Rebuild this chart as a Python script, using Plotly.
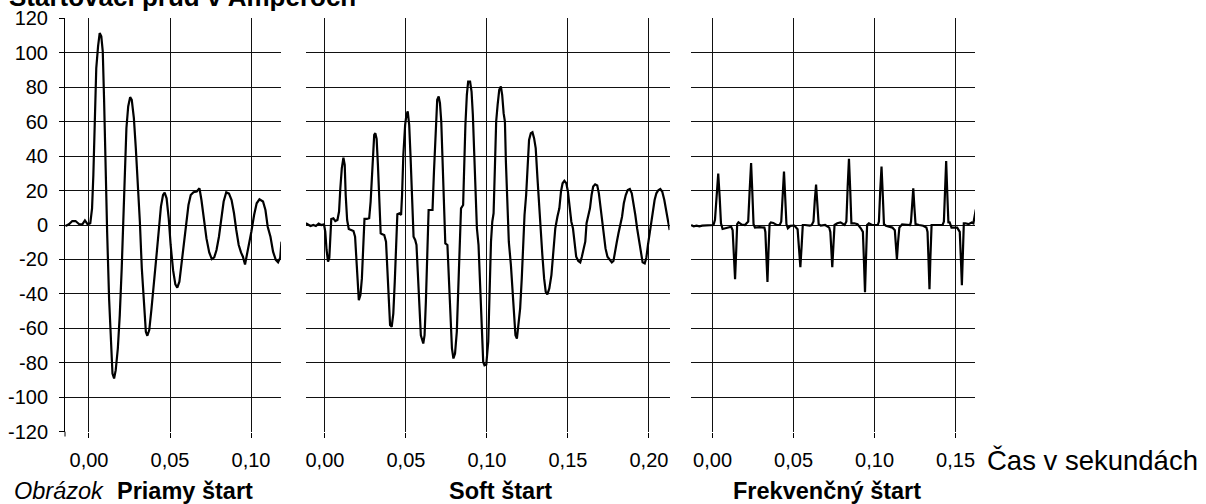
import plotly.graph_objects as go

# ---------------- data (time in s, current in A) ----------------
priamy_t = [
    -0.0145, -0.0124, -0.0103, -0.0083, -0.0062, -0.0041, -0.0025, -0.0008, 0.0008, 0.0019,
    0.0027, 0.0035, 0.0045, 0.0056, 0.0066, 0.0076, 0.0085, 0.0093, 0.0101, 0.0112,
    0.0124, 0.0134, 0.0145, 0.0155, 0.0165, 0.0178, 0.0190, 0.0202, 0.0213, 0.0223,
    0.0231, 0.0242, 0.0254, 0.0264, 0.0277, 0.0289, 0.0302, 0.0314, 0.0326, 0.0339,
    0.0351, 0.0360, 0.0372, 0.0386, 0.0403, 0.0417, 0.0432, 0.0444, 0.0457, 0.0467,
    0.0479, 0.0492, 0.0504, 0.0519, 0.0533, 0.0545, 0.0558, 0.0572, 0.0587, 0.0601,
    0.0614, 0.0628, 0.0645, 0.0665, 0.0682, 0.0694, 0.0709, 0.0725, 0.0742, 0.0758,
    0.0773, 0.0787, 0.0802, 0.0816, 0.0831, 0.0847, 0.0864, 0.0880, 0.0895, 0.0909,
    0.0924, 0.0938, 0.0950, 0.0963, 0.0973, 0.0986, 0.1002, 0.1019, 0.1035, 0.1052,
    0.1074, 0.1089, 0.1103, 0.1120, 0.1136, 0.1153, 0.1167, 0.1180, 0.1188,
]
priamy_i = [
    -0.6, 0.4, 2.3, 2.3, 0.6, 0.4, 2.7, 0.4, 1.0, 9.7,
    29.1, 60.1, 91.1, 103.7, 111.4, 109.5, 100.8, 73.6, 32.9, -3.9,
    -42.6, -67.8, -86.2, -89.1, -84.3, -71.7, -52.3, -25.2, 1.9, 36.8,
    56.2, 68.8, 74.2, 72.7, 62.0, 44.6, 25.2, 1.9, -25.2, -48.4,
    -62.0, -64.3, -61.0, -48.4, -32.9, -17.4, -1.9, 10.7, 17.4, 18.8,
    15.5, 3.9, -11.6, -26.2, -34.5, -36.4, -32.9, -22.3, -7.8, 2.9,
    11.6, 17.4, 19.0, 19.4, 21.3, 14.5, 2.9, -7.8, -15.9, -19.8,
    -18.8, -14.5, -6.8, 3.9, 13.6, 19.0, 18.2, 14.5, 6.8, -2.9,
    -11.6, -15.9, -18.4, -22.9, -18.4, -11.6, -3.9, 5.8, 12.6, 14.9,
    13.6, 8.7, -1.0, -6.8, -15.5, -20.3, -21.7, -19.0, -9.7,
]

soft_t = [
    -0.0118, -0.0104, -0.0089, -0.0072, -0.0056, -0.0039, -0.0023, -0.0006, 0.0002, 0.0010,
    0.0019, 0.0027, 0.0033, 0.0039, 0.0052, 0.0064, 0.0077, 0.0087, 0.0095, 0.0104,
    0.0114, 0.0122, 0.0128, 0.0137, 0.0147, 0.0159, 0.0176, 0.0186, 0.0193, 0.0201,
    0.0209, 0.0219, 0.0228, 0.0236, 0.0244, 0.0259, 0.0273, 0.0282, 0.0290, 0.0298,
    0.0304, 0.0311, 0.0319, 0.0327, 0.0335, 0.0344, 0.0354, 0.0366, 0.0377, 0.0385,
    0.0393, 0.0402, 0.0412, 0.0422, 0.0431, 0.0439, 0.0447, 0.0460, 0.0470, 0.0476,
    0.0484, 0.0495, 0.0503, 0.0511, 0.0520, 0.0528, 0.0538, 0.0547, 0.0557, 0.0565,
    0.0573, 0.0582, 0.0592, 0.0607, 0.0615, 0.0623, 0.0631, 0.0640, 0.0652, 0.0664,
    0.0673, 0.0683, 0.0693, 0.0702, 0.0710, 0.0718, 0.0726, 0.0735, 0.0743, 0.0756,
    0.0764, 0.0774, 0.0784, 0.0793, 0.0803, 0.0814, 0.0822, 0.0832, 0.0840, 0.0853,
    0.0859, 0.0867, 0.0876, 0.0884, 0.0896, 0.0905, 0.0913, 0.0921, 0.0929, 0.0938,
    0.0948, 0.0958, 0.0969, 0.0977, 0.0985, 0.0996, 0.1008, 0.1016, 0.1025, 0.1033,
    0.1041, 0.1049, 0.1057, 0.1066, 0.1076, 0.1086, 0.1094, 0.1103, 0.1111, 0.1117,
    0.1125, 0.1135, 0.1148, 0.1158, 0.1168, 0.1176, 0.1185, 0.1195, 0.1205, 0.1215,
    0.1223, 0.1232, 0.1242, 0.1252, 0.1260, 0.1271, 0.1281, 0.1291, 0.1301, 0.1312,
    0.1322, 0.1332, 0.1342, 0.1353, 0.1363, 0.1373, 0.1385, 0.1398, 0.1410, 0.1422,
    0.1435, 0.1447, 0.1457, 0.1467, 0.1478, 0.1490, 0.1500, 0.1510, 0.1521, 0.1531,
    0.1541, 0.1551, 0.1564, 0.1576, 0.1586, 0.1597, 0.1607, 0.1615, 0.1625, 0.1636,
    0.1646, 0.1656, 0.1668, 0.1681, 0.1691, 0.1701, 0.1711, 0.1722, 0.1732, 0.1744,
    0.1759, 0.1771, 0.1781, 0.1791, 0.1802, 0.1812, 0.1822, 0.1834, 0.1845, 0.1857,
    0.1869, 0.1882, 0.1894, 0.1906, 0.1916, 0.1927, 0.1939, 0.1951, 0.1961, 0.1974,
    0.1984, 0.1994, 0.2005, 0.2015, 0.2025, 0.2035, 0.2046, 0.2058, 0.2070, 0.2082,
    0.2095, 0.2107, 0.2117, 0.2128,
]
soft_i = [
    1.0, 0.0, -0.6, 0.0, -0.6, 0.8, 0.0, 0.4, -3.9, -14.5,
    -21.3, -19.0, -3.9, 3.5, 3.9, 2.3, 2.9, 7.8, 21.3, 32.9,
    39.1, 34.9, 17.4, 2.9, -2.3, -2.9, -3.5, -6.8, -19.4, -34.9,
    -43.6, -40.7, -31.0, -13.6, 3.5, 3.5, 3.9, 13.6, 27.1, 40.7,
    52.3, 53.3, 50.0, 34.9, 13.6, -4.8, -5.4, -5.8, -9.7, -25.2,
    -48.4, -58.1, -59.1, -51.4, -32.9, -11.6, 6.2, 6.8, 5.8, 17.4,
    40.7, 58.1, 64.0, 65.9, 58.1, 40.7, 19.4, -6.8, -8.7, -11.6,
    -27.1, -48.4, -64.0, -68.8, -64.0, -44.6, -13.6, 8.7, 8.7, 8.7,
    31.0, 58.1, 72.7, 74.6, 70.7, 60.1, 36.8, 9.7, -10.7, -11.6,
    -31.0, -54.3, -71.7, -77.5, -74.6, -62.0, -40.7, -13.6, 9.7, 11.6,
    32.9, 58.1, 75.6, 83.3, 83.3, 77.5, 64.0, 40.7, 13.6, -1.9,
    -11.6, -36.8, -62.0, -79.5, -81.4, -81.0, -67.8, -36.8, -9.7, 1.9,
    6.8, 32.9, 60.1, 69.8, 78.5, 80.4, 75.6, 64.9, 60.1, 36.8,
    13.6, -9.7, -23.3, -38.8, -56.2, -64.0, -65.9, -58.1, -48.4, -31.0,
    -9.7, 5.8, 17.4, 38.8, 49.4, 53.3, 53.9, 50.4, 44.6, 27.1,
    9.7, -7.8, -17.4, -31.0, -38.8, -40.3, -36.8, -29.1, -13.6, -1.9,
    4.8, 9.7, 19.4, 24.2, 25.6, 24.2, 19.4, 9.7, 1.9, -1.9,
    -11.6, -18.4, -20.9, -21.7, -18.4, -13.6, -9.7, 1.0, 5.8, 9.7,
    17.4, 22.3, 23.6, 22.9, 18.4, 10.7, 1.9, -5.8, -13.6, -18.4,
    -20.3, -21.7, -20.9, -16.5, -9.7, -4.8, -1.0, 4.8, 12.6, 17.4,
    20.3, 20.9, 18.4, 12.6, 5.8, -1.9, -9.7, -17.4, -21.7, -22.3,
    -19.0, -11.6, -4.8, 2.9, 7.8, 14.5, 18.4, 20.2, 20.9, 19.4,
    14.5, 8.7, 2.9, -2.9,
]

frekv_t = [
    -0.0132, -0.0116, -0.0099, -0.0081, -0.0064, -0.0043, -0.0019, 0.0006, 0.0015, 0.0025,
    0.0035, 0.0044, 0.0052, 0.0062, 0.0085, 0.0115, 0.0124, 0.0132, 0.0139, 0.0146,
    0.0152, 0.0160, 0.0180, 0.0200, 0.0220, 0.0229, 0.0238, 0.0246, 0.0253, 0.0262,
    0.0290, 0.0320, 0.0326, 0.0333, 0.0339, 0.0345, 0.0352, 0.0360, 0.0375, 0.0395,
    0.0415, 0.0424, 0.0433, 0.0441, 0.0449, 0.0456, 0.0465, 0.0480, 0.0505, 0.0525,
    0.0534, 0.0542, 0.0550, 0.0557, 0.0570, 0.0600, 0.0612, 0.0623, 0.0631,
    0.0639, 0.0647, 0.0655, 0.0668, 0.0695, 0.0720, 0.0727, 0.0733, 0.0739, 0.0746,
    0.0753, 0.0770, 0.0790, 0.0815, 0.0826, 0.0834, 0.0842, 0.0850, 0.0857, 0.0875,
    0.0895, 0.0915, 0.0928, 0.0935, 0.0941, 0.0947, 0.0954, 0.0965, 0.0985, 0.1020,
    0.1027, 0.1035, 0.1043, 0.1051, 0.1058, 0.1070, 0.1090, 0.1110, 0.1125, 0.1132,
    0.1138, 0.1145, 0.1153, 0.1170, 0.1195, 0.1220, 0.1225, 0.1232, 0.1239, 0.1246,
    0.1253, 0.1275, 0.1300, 0.1320, 0.1327, 0.1333, 0.1339, 0.1345, 0.1352, 0.1365,
    0.1390, 0.1420, 0.1428, 0.1435, 0.1442, 0.1449, 0.1456, 0.1462, 0.1475, 0.1510,
    0.1526, 0.1533, 0.1539, 0.1545, 0.1551, 0.1560, 0.1580, 0.1600, 0.1610, 0.1625,
]
frekv_i = [
    0.0, -0.8, -0.4, -0.8, -0.4, -0.4, 0.0, 0.0, 3.0, 18.0,
    29.8, 16.0, 1.0, -2.3, -1.9, -1.0, -3.0, -18.0, -31.5, -15.0,
    0.5, 1.6, 0.2, 0.0, 2.0, 20.0, 36.0, 18.0, 0.5, -1.5,
    -1.2, -1.5, -4.0, -20.0, -33.0, -16.0, 0.5, 1.5, 1.2, 0.0,
    0.0, 2.0, 18.0, 31.0, 15.0, 0.5, -1.9, -0.5, -0.3, -2.5,
    -14.0, -24.5, -12.0, 0.0, 0.0, -0.4, 0.0, 2.0, 14.0,
    23.5, 12.0, 0.5, -0.4, 0.0, -1.5, -4.0, -14.0, -24.5, -12.0,
    0.0, 1.0, 1.5, 0.0, 2.0, 22.0, 38.4, 20.0, 1.0, 1.0,
    0.5, -1.9, -4.0, -22.0, -39.0, -20.0, 0.0, 1.0, 0.0, 0.0,
    2.0, 20.0, 33.9, 17.0, 0.5, -0.4, -1.0, -1.5, -3.0, -12.0,
    -19.8, -10.0, -1.5, 0.4, 0.0, 0.0, 2.0, 12.0, 21.3, 10.0,
    0.5, 0.0, -0.4, -1.5, -4.0, -20.0, -37.3, -18.0, 0.0, 0.0,
    0.0, 0.0, 2.0, 20.0, 37.2, 18.0, 1.0, 2.0, -1.5, -1.5,
    -4.0, -20.0, -35.0, -17.0, 1.0, 1.0, 0.5, 1.5, 1.0, 9.0,
]

y_tick_vals = [-120, -100, -80, -60, -40, -20, 0, 20, 40, 60, 80, 100, 120]
y_tick_text = ["-120", "-100", "-80", "-60", "-40", "-20", "0", "20", "40", "60", "80", "100", "120"]
x1_tick_vals = [0.0, 0.05, 0.10]
x1_tick_text = ["0,00", "0,05", "0,10"]
x2_tick_vals = [0.0, 0.05, 0.10, 0.15, 0.20]
x2_tick_text = ["0,00", "0,05", "0,10", "0,15", "0,20"]
x3_tick_vals = [0.0, 0.05, 0.10, 0.15]
x3_tick_text = ["0,00", "0,05", "0,10", "0,15"]

title_text = "Startovací prúd v Ampéroch"
panel_names = ["Priamy štart", "Soft štart", "Frekvenčný štart"]
fig_label = "Obrázok"
x_axis_label = "Čas v sekundách"

# ---------------- layout helpers ----------------
W, H = 1206, 504
FONT = "Liberation Sans, Arial, sans-serif"


def px(x):
    return x / W


def py(y):
    return 1 - y / H


line_style = dict(color="black", width=2.2)
fig = go.Figure()
fig.add_trace(go.Scatter(x=priamy_t, y=priamy_i, xaxis="x", yaxis="y", mode="lines",
                         line=line_style, hoverinfo="skip", showlegend=False))
fig.add_trace(go.Scatter(x=soft_t, y=soft_i, xaxis="x2", yaxis="y2", mode="lines",
                         line=line_style, hoverinfo="skip", showlegend=False))
fig.add_trace(go.Scatter(x=frekv_t, y=frekv_i, xaxis="x3", yaxis="y3", mode="lines",
                         line=line_style, hoverinfo="skip", showlegend=False))

ydom = [py(431.7), py(18.3)]
tickfont = dict(family=FONT, size=20, color="black")
grid = dict(showgrid=True, gridcolor="#111111", gridwidth=1, zeroline=False, automargin=False)


def xax(dom, rng, vals, text, anchor):
    return dict(domain=dom, range=rng, tickvals=vals, ticktext=text, ticks="outside",
                ticklen=5, tickcolor="black", tickwidth=1, tickfont=tickfont,
                showline=False, anchor=anchor, ticklabelstandoff=5, **grid)


def yax(anchor, labels):
    d = dict(domain=ydom, range=[-120, 120], tickvals=y_tick_vals, anchor=anchor, **grid)
    if labels:
        d.update(ticktext=y_tick_text, ticks="outside", ticklen=5, tickcolor="black",
                 tickfont=tickfont, showline=True, linecolor="black", linewidth=1,
                 ticklabelstandoff=7)
    else:
        d.update(showticklabels=False, ticks="", showline=False)
    return d


fig.update_layout(
    template="none",
    width=W, height=H, autosize=False,
    margin=dict(l=0, r=0, t=0, b=0, pad=0, autoexpand=False),
    paper_bgcolor="white", plot_bgcolor="white",
    font=dict(family=FONT, color="black"),
    xaxis=xax([px(65), px(281)], [-0.0148, 0.1185], x1_tick_vals, x1_tick_text, "y"),
    xaxis2=xax([px(306), px(669.5)], [-0.0117, 0.2127], x2_tick_vals, x2_tick_text, "y2"),
    xaxis3=xax([px(691), px(975)], [-0.0133, 0.1620], x3_tick_vals, x3_tick_text, "y3"),
    yaxis=yax("x", True),
    yaxis2=yax("x2", False),
    yaxis3=yax("x3", False),
    shapes=[dict(type="line", xref="paper", yref="paper", x0=px(65), x1=px(65),
                 y0=py(431.7), y1=py(436.5), line=dict(color="black", width=1))],
)

ann = [
    dict(text="<b>" + title_text + "</b>", x=px(7), y=py(-3.5), xanchor="left", yanchor="middle",
         font=dict(size=26)),
    dict(text="<i>" + fig_label + "</i>", x=px(12), y=py(491), xanchor="left", yanchor="middle",
         font=dict(size=23.5)),
    dict(text="<b>" + panel_names[0] + "</b>", x=px(115), y=py(491), xanchor="left", yanchor="middle",
         font=dict(size=23.5)),
    dict(text="<b>" + panel_names[1] + "</b>", x=px(500), y=py(491), xanchor="center", yanchor="middle",
         font=dict(size=23.5)),
    dict(text="<b>" + panel_names[2] + "</b>", x=px(827), y=py(491), xanchor="center", yanchor="middle",
         font=dict(size=23.5)),
    dict(text=x_axis_label, x=px(985), y=py(460), xanchor="left", yanchor="middle",
         font=dict(size=27.5)),
]
for a in ann:
    a.update(xref="paper", yref="paper", showarrow=False)
    a["font"].update(family=FONT, color="black")
fig.update_layout(annotations=ann)

# remove the browser's default 8px page margin so the figure fills the window exactly
fig.write_html("out.html", config={"displayModeBar": False, "staticPlot": True},
               post_script="document.body.style.margin='0';document.body.style.overflow='hidden';")
